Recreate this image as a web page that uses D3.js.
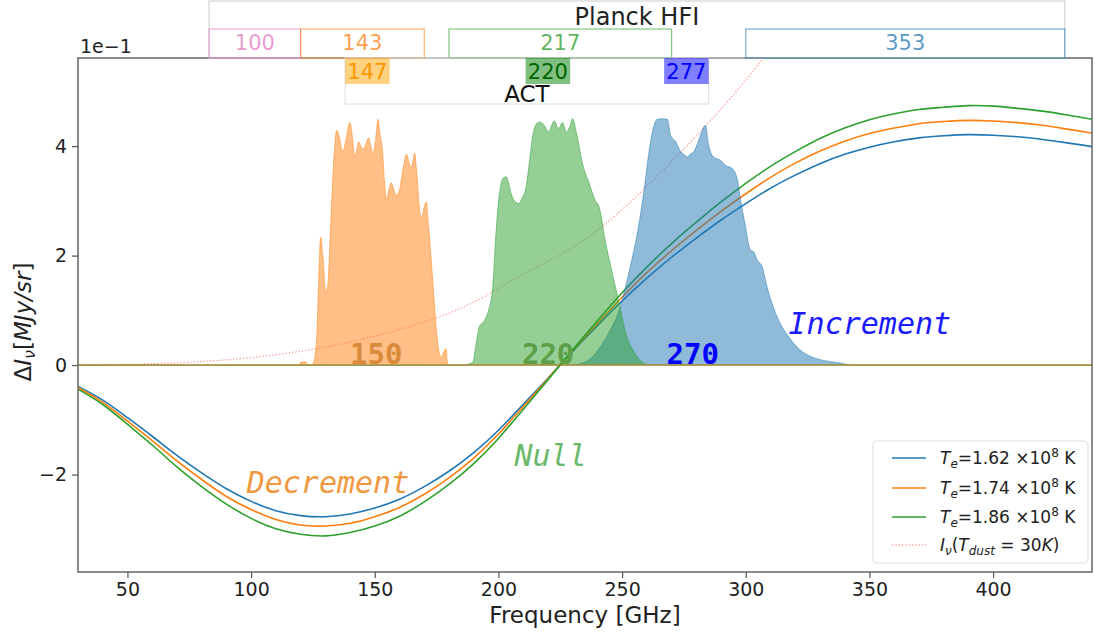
<!DOCTYPE html>
<html><head><meta charset="utf-8">
<script src="https://cdn.jsdelivr.net/npm/d3@7"></script>
<style>body{margin:0;background:#fff}svg{display:block}</style>
</head><body><svg id="chart" width="1095" height="632"></svg>
<script>
// ---------------- data ----------------
const freq = [30,40,50,60,70,80,90,100,110,120,130,140,150,160,170,180,190,200,210,220,230,240,250,260,270,280,290,300,310,320,330,340,350,360,370,380,390,400,410,420,430,440];
const szTe162 = [-0.39,-0.64,-0.96,-1.30,-1.65,-1.97,-2.26,-2.49,-2.66,-2.75,-2.77,-2.72,-2.61,-2.45,-2.22,-1.94,-1.60,-1.19,-0.72,-0.24,0.25,0.72,1.17,1.59,1.97,2.32,2.65,2.95,3.23,3.47,3.68,3.85,3.98,4.08,4.15,4.19,4.21,4.20,4.17,4.12,4.06,3.99];
const szTe174 = [-0.41,-0.68,-1.02,-1.38,-1.75,-2.09,-2.40,-2.64,-2.82,-2.92,-2.94,-2.89,-2.77,-2.60,-2.36,-2.06,-1.70,-1.26,-0.76,-0.25,0.27,0.76,1.24,1.69,2.09,2.46,2.81,3.13,3.43,3.69,3.91,4.09,4.23,4.33,4.41,4.45,4.47,4.46,4.43,4.38,4.31,4.24];
const szTe186 = [-0.44,-0.72,-1.08,-1.46,-1.86,-2.22,-2.54,-2.80,-2.99,-3.09,-3.12,-3.06,-2.94,-2.76,-2.50,-2.18,-1.80,-1.34,-0.81,-0.27,0.28,0.81,1.32,1.79,2.22,2.61,2.98,3.32,3.63,3.90,4.14,4.33,4.48,4.59,4.67,4.71,4.74,4.73,4.69,4.64,4.57,4.49];
const seriesLabels = ["1.62","1.74","1.86"];

const dustFreq = [30,50,70,90,110,130,150,170,190,210,230,250,270,290,310,320];
const dustVals = [0.003,0.014,0.042,0.097,0.19,0.33,0.53,0.79,1.15,1.66,2.15,2.84,3.72,4.68,5.77,6.4];

const act150Freq = [30,119.5,120,122,123,125,126.5,127.5,128.1,129,130.2,131,132,133.5,134.6,135.5,137,138.5,139.9,141,141.9,142.8,143.5,144.5,145.6,146.5,147.5,148.4,149.3,150.3,151.3,152.2,153.1,154,154.7,155.7,156.7,157.7,158.8,160,161.5,162.8,163.8,164.8,165.5,166.1,167,168,168.8,169.8,170.8,171.8,173.5,175,176.2,177,178,178.9,179.3,179.8,440];
const act150Resp = [0,0,0.05,0.06,0,0.02,0.5,1.8,2.34,2.0,1.34,1.45,2.4,3.8,4.29,4.2,3.9,4.15,4.43,4.15,3.8,3.95,4.08,3.98,3.95,4.05,4.15,4.0,3.87,4.1,4.49,4.2,3.93,3.3,3.03,3.2,3.33,3.2,3.1,3.2,3.6,3.85,3.7,3.62,3.75,3.87,3.5,2.9,2.66,2.85,2.98,2.5,1.5,0.6,0.2,0.15,0.25,0.3,0.05,0,0];

const act220Freq = [30,186,188,189.6,191,192.3,194.4,196,197.7,198.7,199.7,201.1,202,203.1,204,205.1,206.5,208.2,209.5,211.2,212.5,213.8,215,216.5,218.5,220.3,221.5,222.6,224.3,225.9,227.5,228.8,230,231.6,234,236.7,239.1,240.7,243.4,246.1,248.8,251.5,254.8,258.9,261,440];
const act220Resp = [0,0,0.02,0.05,0.4,0.7,0.82,1.0,1.43,2.2,2.83,3.32,3.42,3.44,3.35,3.14,3.0,2.95,3.05,3.26,3.7,4.17,4.38,4.44,4.38,4.26,4.38,4.46,4.32,4.43,4.26,4.35,4.5,4.23,3.68,3.32,3.01,2.89,2.22,1.67,1.13,0.58,0.24,0.03,0,0];

const act270Freq = [30,231,232.7,236.7,240.7,244.8,248.8,252.8,256.9,258.9,260.9,262.9,264.2,266,268.3,269.6,271.7,273.7,275,276.3,277.5,279,281,282.5,283.7,285,287,289.8,291.8,294.5,296.5,297.9,299.9,301.9,303.2,304.6,306.6,308.6,310.6,313.3,317.3,321.4,326.7,331,336.2,341.5,345,440];
const act270Resp = [0,0,0.02,0.1,0.3,0.6,1.0,1.7,2.6,3.2,3.9,4.38,4.49,4.5,4.49,4.2,4.08,3.9,3.85,3.8,3.85,3.9,4.11,4.3,4.38,4.02,3.8,3.74,3.65,3.59,3.41,3.01,2.53,2.1,2.07,1.92,1.8,1.43,1.13,0.82,0.52,0.3,0.15,0.09,0.05,0.01,0,0];

const planckRange = [83, 429];
const planckLabels = ["100","143","217","353"];
const planckLo = [83,120,180,300];
const planckHi = [120,170,270,429];
const actRange = [138, 285];
const actLabels = ["147","220","277"];
const actLo = [138,211,267];
const actHi = [156,229,285];
const bandLabels = ["150","220","270"];
const bandLabelFreq = [140,209.5,268];

const xTicks = [50,100,150,200,250,300,350,400];
const yTicks = [-2,0,2,4];

// ---------------- drawing ----------------
const svg = d3.select("#chart");
const L = 78, R = 1092, T = 58, B = 572;
const x = d3.scaleLinear().domain([30,440]).range([L,R]);
const y = d3.scaleLinear().domain([-3.78,5.61]).range([B,T]);
const FONT = "DejaVu Sans, Liberation Sans, sans-serif";
const MONO = "DejaVu Sans Mono, Liberation Mono, monospace";

svg.append("defs").append("clipPath").attr("id","clip")
  .append("rect").attr("x",L).attr("y",T).attr("width",R-L).attr("height",B-T);

const plot = svg.append("g").attr("clip-path","url(#clip)");

// SZ curves
const szColors = ["#1f77b4","#ff7f0e","#2ca02c"];
[szTe162, szTe174, szTe186].forEach((vals,i)=>{
  const pts = freq.map((f,j)=>[f,vals[j]]);
  plot.append("path").datum(pts)
    .attr("d", d3.line().x(d=>x(d[0])).y(d=>y(d[1])).curve(d3.curveNatural))
    .attr("fill","none").attr("stroke",szColors[i]).attr("stroke-width",1.6);
});

// dust
plot.append("path").datum(dustFreq.map((f,j)=>[f,dustVals[j]]))
  .attr("d", d3.line().x(d=>x(d[0])).y(d=>y(d[1])).curve(d3.curveNatural))
  .attr("fill","none").attr("stroke","#ff6060").attr("stroke-opacity",0.55)
  .attr("stroke-width",1.3).attr("stroke-dasharray","1.5,1.8");

// bandpasses (blue first, green over it, orange last)
const bands = [
  {f:act270Freq, r:act270Resp, c:"#1f77b4"},
  {f:act220Freq, r:act220Resp, c:"#2ca02c"},
  {f:act150Freq, r:act150Resp, c:"#ff7f0e"}
];
bands.forEach(b=>{
  const pts = b.f.map((f,j)=>[f,b.r[j]]);
  plot.append("path").datum(pts)
    .attr("d", d3.area().x(d=>x(d[0])).y0(y(0)).y1(d=>y(d[1])).curve(d3.curveMonotoneX))
    .attr("fill",b.c).attr("fill-opacity",0.5)
    .attr("stroke",b.c).attr("stroke-opacity",0.5).attr("stroke-width",1);
});

// band labels
const bandLabelColors = ["#d98a3a","#5c9f47","#0000ff"];
bandLabels.forEach((t,i)=>{
  plot.append("text").attr("x",x(bandLabelFreq[i])).attr("y",y(0)-1)
    .attr("font-family",MONO).attr("font-weight","bold").attr("font-size",29)
    .attr("fill",bandLabelColors[i]).text(t);
});

// annotations
const ann = [
  {t:"Decrement", f:98.2, v:-2.34, c:"#f0983f"},
  {t:"Null", f:206.5, v:-1.85, c:"#6ab86a"},
  {t:"Increment", f:317.3, v:0.57, c:"#1a1aff"}
];
ann.forEach(a=>{
  plot.append("text").attr("x",x(a.f)).attr("y",y(a.v))
    .attr("font-family",MONO).attr("font-style","italic").attr("font-size",30)
    .attr("fill",a.c).text(a.t);
});

// frame
svg.append("rect").attr("x",L).attr("y",T).attr("width",R-L).attr("height",B-T)
  .attr("fill","none").attr("stroke","#666").attr("stroke-width",1.5);

// axes
const xAxis = svg.append("g").attr("transform",`translate(0,${B})`)
  .call(d3.axisBottom(x).tickValues(xTicks).tickSize(6).tickPadding(5).tickFormat(d3.format("d")));
const yAxis = svg.append("g").attr("transform",`translate(${L},0)`)
  .call(d3.axisLeft(y).tickValues(yTicks).tickSize(6).tickPadding(5).tickFormat(d=>d<0?"\u2212"+Math.abs(d):d));
[xAxis,yAxis].forEach(g=>{
  g.select(".domain").remove();
  g.selectAll(".tick line").attr("stroke","#555").attr("stroke-width",1.2);
  g.selectAll("text").attr("font-family",FONT).attr("font-size",19).attr("fill","#222");
});

svg.append("text").attr("x",L+2).attr("y",T-5).attr("font-family",FONT).attr("font-size",19)
  .attr("fill","#222").text("1e\u22121");

svg.append("text").attr("x",(L+R)/2).attr("y",623).attr("text-anchor","middle")
  .attr("font-family",FONT).attr("font-size",23).attr("fill","#222").text("Frequency [GHz]");

const yl = svg.append("text").attr("transform","translate(31,322) rotate(-90)")
  .attr("text-anchor","middle").attr("font-family",FONT).attr("font-size",23).attr("fill","#222");
yl.append("tspan").text("\u0394");
yl.append("tspan").attr("font-style","italic").text("I");
yl.append("tspan").attr("font-style","italic").attr("font-size",16).attr("dy",4).text("\u03bd");
yl.append("tspan").attr("dy",-4).text("[");
yl.append("tspan").attr("font-style","italic").text("MJy/sr");
yl.append("tspan").text("]");

// Planck HFI boxes (above axes)
svg.append("rect").attr("x",x(planckRange[0])).attr("y",1).attr("width",x(planckRange[1])-x(planckRange[0])).attr("height",T-1)
  .attr("fill","none").attr("stroke","#ccc").attr("stroke-width",1);
svg.append("text").attr("x",(x(planckRange[0])+x(planckRange[1]))/2).attr("y",25).attr("text-anchor","middle")
  .attr("font-family",FONT).attr("font-size",24).attr("fill","#222").text("Planck HFI");
const planckColors = ["#e377c2","#ff7f0e","#2ca02c","#1f77b4"];
planckLabels.forEach((t,i)=>{
  svg.append("rect").attr("x",x(planckLo[i])).attr("y",29).attr("width",x(planckHi[i])-x(planckLo[i])).attr("height",T-29)
    .attr("fill","none").attr("stroke",planckColors[i]).attr("stroke-opacity",0.6).attr("stroke-width",1.2);
  svg.append("text").attr("x",(x(planckLo[i])+x(planckHi[i]))/2).attr("y",50).attr("text-anchor","middle")
    .attr("font-family",FONT).attr("font-size",21).attr("fill",planckColors[i]).attr("fill-opacity",0.75).text(t);
});

// ACT boxes (inside axes top)
svg.append("rect").attr("x",x(actRange[0])).attr("y",T).attr("width",x(actRange[1])-x(actRange[0])).attr("height",46)
  .attr("fill","none").attr("stroke","#ddd").attr("stroke-width",1);
svg.append("text").attr("x",(x(actRange[0])+x(actRange[1]))/2).attr("y",102).attr("text-anchor","middle")
  .attr("font-family",FONT).attr("font-size",23).attr("fill","#111").text("ACT");
const actFill = ["#ffa500","#008000","#0000ff"];
const actText = ["#ff9500","#006400","#0000ff"];
actLabels.forEach((t,i)=>{
  svg.append("rect").attr("x",x(actLo[i])).attr("y",T).attr("width",x(actHi[i])-x(actLo[i])).attr("height",26)
    .attr("fill",actFill[i]).attr("fill-opacity",0.5);
  svg.append("text").attr("x",(x(actLo[i])+x(actHi[i]))/2).attr("y",79).attr("text-anchor","middle")
    .attr("font-family",FONT).attr("font-size",21).attr("fill",actText[i]).text(t);
});

// legend
const lg = svg.append("g").attr("transform","translate(873,441)");
lg.append("rect").attr("width",215).attr("height",122).attr("rx",4)
  .attr("fill","#fff").attr("fill-opacity",0.8).attr("stroke","#ddd");
const legColors = ["#1f77b4","#ff7f0e","#2ca02c"];
const rowsY = [17,47,76,104];
seriesLabels.forEach((s,i)=>{
  lg.append("line").attr("x1",19).attr("x2",53).attr("y1",rowsY[i]).attr("y2",rowsY[i])
    .attr("stroke",legColors[i]).attr("stroke-width",1.6);
  const t = lg.append("text").attr("x",67).attr("y",rowsY[i]+6).attr("font-family",FONT).attr("font-size",17).attr("fill","#222");
  t.append("tspan").attr("font-style","italic").text("T");
  t.append("tspan").attr("font-style","italic").attr("font-size",12).attr("dy",4).text("e");
  t.append("tspan").attr("dy",-4).text("=" + s + " \u00d710");
  t.append("tspan").attr("font-size",12).attr("dy",-7).text("8");
  t.append("tspan").attr("dy",7).text(" K");
});
lg.append("line").attr("x1",19).attr("x2",53).attr("y1",rowsY[3]).attr("y2",rowsY[3])
  .attr("stroke","#ff6060").attr("stroke-opacity",0.55).attr("stroke-width",1.3).attr("stroke-dasharray","1.5,1.8");
const dt = lg.append("text").attr("x",67).attr("y",rowsY[3]+6).attr("font-family",FONT).attr("font-size",17).attr("fill","#222");
dt.append("tspan").attr("font-style","italic").text("I");
dt.append("tspan").attr("font-style","italic").attr("font-size",12).attr("dy",4).text("\u03bd");
dt.append("tspan").attr("dy",-4).text("(");
dt.append("tspan").attr("font-style","italic").text("T");
dt.append("tspan").attr("font-style","italic").attr("font-size",12).attr("dy",4).text("dust");
dt.append("tspan").attr("dy",-4).text(" = 30");
dt.append("tspan").attr("font-style","italic").text("K");
dt.append("tspan").text(")");
</script></body></html>
